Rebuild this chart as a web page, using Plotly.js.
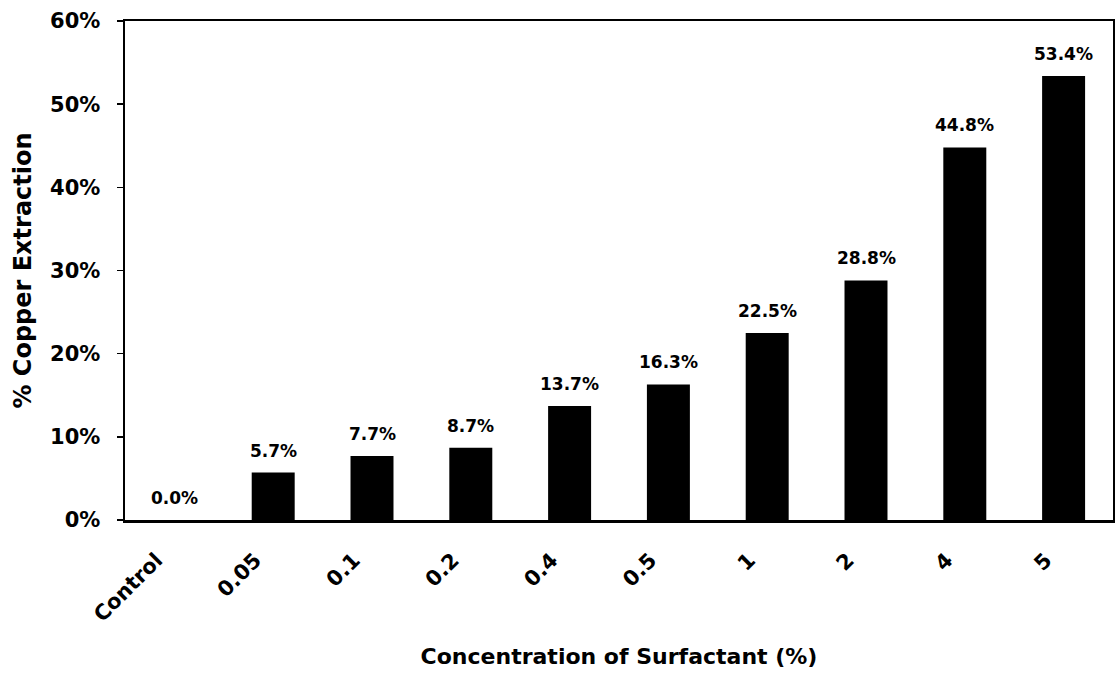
<!DOCTYPE html>
<html><head><meta charset="utf-8">
<script src="https://cdn.plot.ly/plotly-3.0.1.min.js"></script>
<style>body{margin:0;background:#fff}#c{width:1115px;height:679px}</style>
</head><body><div id="c"></div>
<script>
const categories = ["Control","0.05","0.1","0.2","0.4","0.5","1","2","4","5"];
const extraction = [0.0, 5.7, 7.7, 8.7, 13.7, 16.3, 22.5, 28.8, 44.8, 53.4];
const labels = extraction.map(v => v.toFixed(1) + "%");
const yTicks = [0,10,20,30,40,50,60];
const yTickText = yTicks.map(v => v + "%");

const font = "DejaVu Sans, Arial, sans-serif";
const annotations = categories.map((c, i) => ({
  x: i, y: extraction[i], xref: "x", yref: "y",
  text: labels[i], showarrow: false,
  xanchor: "center", yanchor: "bottom", yshift: 10,
  font: {family: font, size: 17, color: "#000", weight: "bold"}
}));

Plotly.newPlot("c", [{
  type: "bar",
  x: categories,
  y: extraction,
  marker: {color: "#000"},
  width: 0.435,
  hoverinfo: "none"
}], {
  width: 1115, height: 679,
  margin: {l: 125, r: 2, t: 21, b: 159},
  paper_bgcolor: "#fff", plot_bgcolor: "#fff",
  showlegend: false,
  font: {family: font, color: "#000"},
  annotations: annotations,
  xaxis: {
    type: "category",
    range: [-0.5, 9.5],
    tickangle: -45,
    tickfont: {family: font, size: 21, weight: "bold"},
    ticklabelstandoff: 17,
    ticklabelshift: -18,
    showline: true, linecolor: "#000", linewidth: 2.5, mirror: true,
    ticks: "", showgrid: false,
    title: {text: "Concentration of Surfactant (%)", font: {family: font, size: 22, weight: "bold"}, standoff: 23}
  },
  yaxis: {
    range: [0, 60],
    tickvals: yTicks, ticktext: yTickText,
    tickfont: {family: font, size: 21, weight: "bold"},
    ticklabelstandoff: 12,
    showline: true, linecolor: "#000", linewidth: 2.5, mirror: true,
    ticks: "outside", ticklen: 6, tickcolor: "#000", tickwidth: 1.5,
    showgrid: false, zeroline: false,
    title: {text: "% Copper Extraction", font: {family: font, size: 24, weight: "bold"}, standoff: 12}
  }
}, {displayModeBar: false, staticPlot: true});
</script></body></html>
